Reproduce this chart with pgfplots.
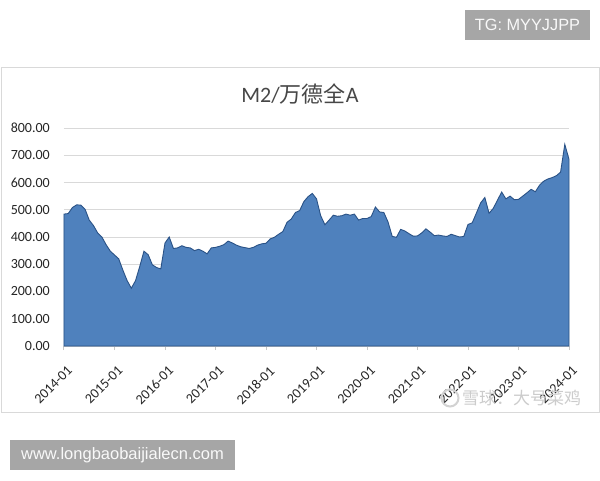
\documentclass[border=0pt]{standalone}
\usepackage{pgfplots}
\pgfplotsset{compat=1.18}
\usepackage{fontspec}
\setmainfont{Carlito}
\newfontfamily\cjk{Noto Sans CJK SC}
\newfontfamily\arialf{Liberation Sans}
\definecolor{areablue}{HTML}{4F81BD}
\definecolor{edgeblue}{HTML}{2A5286}
\definecolor{gridgray}{HTML}{D9D9D9}
\definecolor{boxgray}{HTML}{A6A6A6}
\definecolor{txtgray}{HTML}{262626}
\begin{document}
\begin{tikzpicture}[x=1pt,y=1pt]
\path[use as bounding box] (0,0) rectangle (600,480);
\fill[white] (0,0) rectangle (600,480);
% chart frame
\draw[gridgray, line width=1pt] (1,412) rectangle (599,68);
\begin{axis}[
  at={(64pt,134pt)}, anchor=south west,
  scale only axis, width=505pt, height=218pt,
  xmin=0, xmax=120, ymin=0, ymax=800,
  axis x line*=bottom, axis y line*=left,
  x axis line style={draw=gridgray!80!gray, line width=1pt, -},
  y axis line style={draw=none},
  xtick={0,12,...,120},
  xticklabels={2014-01,2015-01,2016-01,2017-01,2018-01,2019-01,2020-01,2021-01,2022-01,2023-01,2024-01},
  ytick={0,100,...,800},
  ymajorgrids, grid style={gridgray, line width=1pt},
  tick align=outside, major tick length=4pt,
  xtick style={draw=gridgray!80!gray, line width=1pt},
  ytick style={draw=none},
  /pgf/number format/assume math mode=true,
  yticklabel={\pgfmathprintnumber[fixed,fixed zerofill,precision=2]{\tick}},
  yticklabel style={font=\fontsize{14}{16}\selectfont, text=txtgray, anchor=east, inner sep=0pt, xshift=-10pt},
  xticklabel style={font=\fontsize{14}{16}\selectfont, text=txtgray, inner sep=0pt, xshift=2.5pt, yshift=-15pt, rotate=45, anchor=north east},
  clip=false,
]
\addplot[fill=areablue, draw=edgeblue, line width=0.9pt] table[x=m, y=v] {
m v
0 484
1 486
2 508
3 518
4 517
5 502
6 462
7 442
8 415
9 400
10 372
11 348
12 334
13 320
14 278
15 240
16 212
17 240
18 292
19 348
20 335
21 298
22 288
23 283
24 378
25 400
26 358
27 360
28 368
29 362
30 360
31 350
32 355
33 348
34 338
35 360
36 362
37 366
38 372
39 385
40 378
41 370
42 364
43 361
44 358
45 362
46 370
47 375
48 377
49 393
50 399
51 410
52 420
53 454
54 466
55 490
56 497
57 530
58 548
59 560
60 540
61 478
62 445
63 462
64 480
65 476
66 478
67 484
68 480
69 484
70 462
71 468
72 468
73 475
74 510
75 492
76 490
77 455
78 402
79 399
80 428
81 422
82 412
83 403
84 404
85 415
86 430
87 418
88 405
89 407
90 404
91 402
92 410
93 405
94 400
95 402
96 446
97 452
98 488
99 525
100 545
101 487
102 505
103 535
104 565
105 540
106 550
107 537
108 538
109 550
110 562
111 575
112 566
113 590
114 605
115 613
116 618
117 625
118 638
119 740
120 685
} \closedcycle;
\end{axis}
% title
\node[anchor=base, text=txtgray!85!white, inner sep=0pt] at (300,377.3)
  {\fontsize{22}{25}\selectfont M2/{\cjk 万德全}A};
% watermark
\draw[gray!35, line width=2pt] (450,82) circle (8.5);
\node[anchor=west, text=gray!40, inner sep=0pt] at (462,82)
  {\fontsize{17}{20}\selectfont\cjk 雪球：大号菜鸡};
% overlay boxes
\fill[boxgray] (465,470) rectangle (590,440);
\node[text=white!95!gray, inner sep=0pt] at (527.5,455)
  {\arialf\fontsize{16.3}{19}\selectfont TG: MYYJJPP};
\fill[boxgray] (10,40) rectangle (235,10);
\node[text=white!95!gray, inner sep=0pt] at (122.5,25)
  {\arialf\fontsize{16.5}{19}\selectfont www.longbaobaijialecn.com};
\end{tikzpicture}
\end{document}
